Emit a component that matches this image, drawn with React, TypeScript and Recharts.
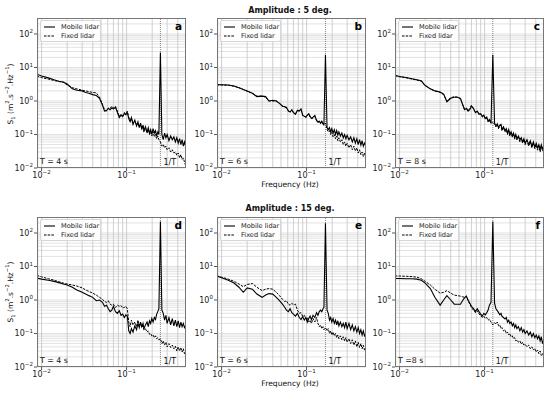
import { LineChart, Line, XAxis, YAxis, ReferenceLine } from 'recharts';

const FONT = '"DejaVu Sans", Verdana, sans-serif';

// frequency grid (Hz) shared by all panels
const FREQ = [
  0.0088, 0.01, 0.012, 0.014, 0.016, 0.018, 0.02, 0.023, 0.026, 0.03,
  0.033, 0.036, 0.04, 0.044, 0.048, 0.052, 0.055, 0.058, 0.061, 0.064,
  0.067, 0.07, 0.074, 0.078, 0.082, 0.086, 0.09, 0.094, 0.098, 0.102,
  0.106, 0.11, 0.114, 0.119, 0.125, 0.131, 0.136, 0.141, 0.146, 0.151,
  0.156, 0.16, 0.1667, 0.174, 0.18, 0.186, 0.192, 0.198, 0.205, 0.212,
  0.219, 0.226, 0.233, 0.24, 0.25, 0.26, 0.27, 0.28, 0.29, 0.3,
  0.315, 0.33, 0.345, 0.36, 0.375, 0.39, 0.405, 0.42, 0.435, 0.45,
  0.465, 0.48, 0.5,
];

// Amplitude 5 deg
const MOBILE_A = [
  6.3, 5.6, 4.9, 4.3, 3.9, 3.7, 3.2, 2.3, 2.1, 2.0,
  1.8, 1.7, 1.55, 1.45, 1.2, 0.75, 0.5, 0.52, 0.6, 0.55,
  0.62, 0.58, 0.65, 0.45, 0.32, 0.38, 0.34, 0.42, 0.39, 0.45,
  0.3, 0.24, 0.32, 0.2, 0.27, 0.18, 0.24, 0.16, 0.22, 0.15,
  0.19, 0.13, 0.17, 0.12, 0.16, 0.11, 0.14, 0.1, 0.15, 0.11,
  0.13, 0.09, 0.12, 0.1, 28, 0.1, 0.07, 0.11, 0.08, 0.1,
  0.065, 0.09, 0.07, 0.085, 0.06, 0.08, 0.055, 0.075, 0.05, 0.07,
  0.045, 0.06, 0.04,
];
const FIXED_A = [
  5.5, 5.0, 4.5, 4.1, 3.8, 3.6, 3.0, 2.5, 2.3, 2.1,
  2.0, 1.9, 1.8, 1.75, 1.3, 0.8, 0.55, 0.5, 0.62, 0.6,
  0.7, 0.62, 0.68, 0.5, 0.35, 0.4, 0.36, 0.45, 0.42, 0.5,
  0.33, 0.26, 0.3, 0.22, 0.25, 0.19, 0.22, 0.17, 0.2, 0.14,
  0.18, 0.12, 0.15, 0.11, 0.14, 0.1, 0.12, 0.09, 0.12, 0.085,
  0.1, 0.075, 0.09, 0.07, 0.06, 0.045, 0.05, 0.04, 0.045, 0.035,
  0.04, 0.03, 0.035, 0.028, 0.03, 0.024, 0.028, 0.02, 0.025, 0.018,
  0.02, 0.015, 0.011,
];
const MOBILE_B = [
  3.1, 3.05, 3.0, 2.8, 2.5, 2.2, 2.0, 1.7, 1.35, 1.4,
  1.35, 1.0, 1.05, 1.0, 0.85, 0.7, 0.68, 0.64, 0.5, 0.47,
  0.55, 0.45, 0.4, 0.53, 0.5, 0.58, 0.37, 0.35, 0.33, 0.38,
  0.42, 0.35, 0.3, 0.33, 0.37, 0.26, 0.24, 0.25, 0.22, 0.25,
  0.21, 0.2, 24, 0.16, 0.14, 0.16, 0.12, 0.15, 0.11, 0.14,
  0.1, 0.13, 0.095, 0.12, 0.09, 0.11, 0.08, 0.1, 0.075, 0.095,
  0.07, 0.085, 0.06, 0.08, 0.055, 0.075, 0.05, 0.07, 0.048, 0.065,
  0.045, 0.055, 0.045,
];
const FIXED_B = [
  3.0, 3.0, 2.95, 2.75, 2.5, 2.2, 1.95, 1.7, 1.4, 1.4,
  1.3, 1.0, 1.0, 1.0, 0.85, 0.72, 0.66, 0.62, 0.52, 0.47,
  0.53, 0.46, 0.42, 0.5, 0.52, 0.55, 0.38, 0.36, 0.32, 0.37,
  0.4, 0.33, 0.3, 0.31, 0.35, 0.27, 0.23, 0.24, 0.21, 0.23,
  0.2, 0.19, 0.22, 0.14, 0.12, 0.13, 0.1, 0.12, 0.085, 0.1,
  0.075, 0.09, 0.065, 0.08, 0.06, 0.07, 0.05, 0.06, 0.045, 0.055,
  0.04, 0.05, 0.035, 0.045, 0.032, 0.04, 0.028, 0.035, 0.025, 0.03,
  0.022, 0.028, 0.02,
];
const MOBILE_C = [
  5.9, 5.4, 5.0, 4.6, 4.3, 4.0, 2.9, 2.3, 2.0, 1.85,
  1.6, 0.95, 1.2, 1.3, 1.3, 1.2, 0.8, 0.55, 0.6, 0.5,
  0.55, 0.7, 0.6, 0.45, 0.5, 0.4, 0.42, 0.35, 0.38, 0.3,
  0.33, 0.25, 0.28, 0.22, 24, 0.22, 0.18, 0.21, 0.16, 0.19,
  0.2, 0.14, 0.17, 0.13, 0.15, 0.11, 0.14, 0.1, 0.12, 0.09,
  0.11, 0.08, 0.1, 0.075, 0.09, 0.07, 0.08, 0.06, 0.075, 0.055,
  0.07, 0.05, 0.065, 0.045, 0.06, 0.042, 0.055, 0.04, 0.05, 0.035,
  0.05, 0.038, 0.045,
];
const FIXED_C = [
  5.7, 5.3, 4.9, 4.5, 4.2, 3.9, 2.9, 2.3, 2.0, 1.8,
  1.55, 1.0, 1.25, 1.35, 1.3, 1.15, 0.8, 0.58, 0.62, 0.52,
  0.6, 0.75, 0.58, 0.47, 0.48, 0.42, 0.4, 0.33, 0.36, 0.29,
  0.31, 0.24, 0.27, 0.21, 0.24, 0.2, 0.17, 0.2, 0.15, 0.18,
  0.19, 0.13, 0.16, 0.12, 0.14, 0.1, 0.13, 0.09, 0.11, 0.085,
  0.1, 0.075, 0.09, 0.07, 0.085, 0.06, 0.075, 0.055, 0.07, 0.05,
  0.065, 0.045, 0.06, 0.04, 0.055, 0.038, 0.05, 0.034, 0.045, 0.03,
  0.045, 0.032, 0.04,
];

// Amplitude 15 deg
const MOBILE_D = [
  4.5, 4.2, 3.9, 3.6, 3.3, 3.0, 2.8, 2.4, 2.0, 1.7,
  1.5, 1.35, 1.2, 0.95, 1.0, 0.85, 0.65, 0.7, 0.55, 0.45,
  0.5, 0.65, 0.45, 0.4, 0.48, 0.35, 0.38, 0.3, 0.36, 0.33,
  0.12, 0.1, 0.14, 0.11, 0.17, 0.13, 0.2, 0.15, 0.22, 0.16,
  0.2, 0.14, 0.18, 0.22, 0.16, 0.24, 0.2, 0.28, 0.22, 0.3,
  0.26, 0.38, 0.45, 0.55, 220, 0.5, 0.4, 0.25, 0.35, 0.2,
  0.3, 0.18, 0.28, 0.17, 0.25, 0.16, 0.24, 0.15, 0.22, 0.16,
  0.2, 0.15, 0.18,
];
const FIXED_D = [
  5.4, 4.9, 4.3, 3.9, 3.5, 3.2, 3.0, 2.8, 2.6, 2.3,
  2.0, 1.8, 1.6, 1.4, 1.2, 1.05, 0.9, 0.85, 0.95, 0.75,
  0.7, 0.75, 0.6, 0.7, 0.65, 0.68, 0.58, 0.6, 0.65, 0.55,
  0.22, 0.16, 0.25, 0.18, 0.22, 0.16, 0.25, 0.18, 0.2, 0.15,
  0.17, 0.13, 0.14, 0.11, 0.12, 0.095, 0.1, 0.085, 0.09, 0.075,
  0.085, 0.07, 0.075, 0.065, 0.07, 0.05, 0.06, 0.045, 0.055, 0.04,
  0.05, 0.038, 0.045, 0.035, 0.042, 0.03, 0.04, 0.03, 0.038, 0.028,
  0.035, 0.025, 0.03,
];
const MOBILE_E = [
  5.2, 4.6, 3.9, 3.2, 2.4, 1.7, 2.3, 2.1, 1.5, 1.2,
  1.4, 1.55, 1.5, 1.2, 0.95, 0.75, 0.62, 0.5, 0.45, 0.55,
  0.42, 0.38, 0.33, 0.4, 0.3, 0.26, 0.32, 0.25, 0.3, 0.22,
  0.28, 0.33, 0.26, 0.35, 0.3, 0.42, 0.35, 0.45, 0.5, 0.45,
  0.55, 0.6, 195, 0.5, 0.4, 0.25, 0.3, 0.22, 0.28, 0.2,
  0.25, 0.18, 0.24, 0.17, 0.22, 0.16, 0.2, 0.15, 0.22, 0.14,
  0.2, 0.13, 0.18, 0.12, 0.16, 0.11, 0.15, 0.1, 0.13, 0.09,
  0.12, 0.085, 0.1,
];
const FIXED_E = [
  5.3, 4.8, 4.2, 3.6, 3.0, 2.5, 2.9, 3.1, 2.4, 1.9,
  2.1, 2.2, 2.1, 1.7, 1.35, 1.05, 0.9, 0.95, 0.75, 0.7,
  0.8, 0.72, 0.75, 0.5, 0.4, 0.42, 0.32, 0.35, 0.27, 0.3,
  0.22, 0.25, 0.2, 0.28, 0.22, 0.3, 0.2, 0.16, 0.18, 0.14,
  0.16, 0.13, 0.15, 0.12, 0.14, 0.1, 0.12, 0.09, 0.11, 0.085,
  0.1, 0.075, 0.09, 0.07, 0.085, 0.065, 0.08, 0.06, 0.075, 0.055,
  0.07, 0.05, 0.065, 0.045, 0.06, 0.04, 0.055, 0.038, 0.05, 0.035,
  0.045, 0.032, 0.04,
];
const MOBILE_F = [
  4.4, 4.4, 4.3, 4.3, 4.2, 3.9, 3.2, 2.2, 1.2, 0.7,
  1.0, 1.35, 1.0, 0.75, 0.75, 0.75, 0.95, 1.15, 1.3, 1.0,
  0.8, 0.65, 0.55, 0.45, 0.55, 0.45, 0.38, 0.33, 0.4, 0.36,
  0.42, 0.5, 0.7, 0.85, 220, 0.8, 0.55, 0.48, 0.42, 0.36,
  0.4, 0.33, 0.3, 0.27, 0.3, 0.22, 0.25, 0.2, 0.22, 0.17,
  0.2, 0.15, 0.18, 0.14, 0.16, 0.12, 0.15, 0.11, 0.13, 0.1,
  0.12, 0.09, 0.11, 0.08, 0.1, 0.075, 0.09, 0.07, 0.085, 0.06,
  0.08, 0.05, 0.07,
];
const FIXED_F = [
  5.2, 5.2, 5.1, 5.0, 4.8, 4.3, 3.6, 2.8, 2.1, 1.6,
  1.7, 1.9, 1.6, 1.4, 1.35, 1.3, 1.25, 1.2, 1.3, 0.95,
  0.75, 0.6, 0.5, 0.42, 0.48, 0.38, 0.35, 0.3, 0.33, 0.28,
  0.3, 0.25, 0.27, 0.22, 0.18, 0.21, 0.19, 0.22, 0.17, 0.18,
  0.14, 0.15, 0.12, 0.13, 0.1, 0.11, 0.09, 0.1, 0.08, 0.085,
  0.07, 0.075, 0.06, 0.065, 0.055, 0.06, 0.048, 0.055, 0.045, 0.048,
  0.04, 0.045, 0.035, 0.04, 0.032, 0.036, 0.028, 0.032, 0.025, 0.03,
  0.022, 0.025, 0.02,
];

const PERIODS = [4, 6, 8, 4, 6, 8];
const PERIOD_LABELS = ['T = 4 s', 'T = 6 s', 'T = 8 s', 'T = 4 s', 'T = 6 s', 'T =8 s'];
const LETTERS = ['a', 'b', 'c', 'd', 'e', 'f'];
const TITLES = ['Amplitude : 5 deg.', 'Amplitude : 15 deg.'];
const X_TICKS = [0.01, 0.1];
const Y_TICKS = [0.01, 0.1, 1, 10, 100];

const X_DOMAIN = [0.00883, 0.5];
const Y_DOMAIN = [0.01, 300];

// log grid positions (major + minor)
const DECADES = [-3, -2, -1, 0, 1, 2];
const STEPS = [1, 2, 3, 4, 5, 6, 7, 8, 9];
const GRID = DECADES.flatMap((d) => STEPS.map((k) => k * Math.pow(10, d)));
const X_GRID = GRID.filter((v) => v > X_DOMAIN[0] && v < X_DOMAIN[1]);
const Y_GRID = GRID.filter((v) => v > Y_DOMAIN[0] * 0.999 && v < Y_DOMAIN[1]);

const PW = 149;
const PH = 150;
const YW = 36;
const XH = 20;

const COLS = [37, 217, 395];
const ROWS = [18, 217];

function expText(v: number) {
  const e = Math.round(Math.log10(v));
  return e < 0 ? '\u2212' + Math.abs(e) : String(e);
}

function XTick(props: any) {
  const { x, payload } = props;
  return (
    <text x={x} y={PH + 10} textAnchor="middle" fontSize={8} fontFamily={FONT} fill="#222">
      10<tspan dy={-3.8} fontSize={5.6}>{expText(payload.value)}</tspan>
    </text>
  );
}

function YTick(props: any) {
  const { y, payload } = props;
  return (
    <text x={YW - 4} y={y + 3} textAnchor="end" fontSize={8} fontFamily={FONT} fill="#222">
      10<tspan dy={-3.8} fontSize={5.6}>{expText(payload.value)}</tspan>
    </text>
  );
}

function Panel({ idx, mobile, fixed }: { idx: number; mobile: number[]; fixed: number[] }) {
  const left = COLS[idx % 3];
  const top = ROWS[Math.floor(idx / 3)];
  const period = PERIODS[idx];
  const data = FREQ.map((f, i) => ({ f, mobile: mobile[i], fixed: fixed[i] }));
  return (
    <div style={{ position: 'absolute', left: left - YW, top, width: PW + YW, height: PH + XH }}>
      <LineChart width={PW + YW} height={PH + XH} data={data} margin={{ top: 0, right: 0, bottom: 0, left: 0 }}>
        <XAxis
          dataKey="f"
          type="number"
          scale="log"
          domain={X_DOMAIN}
          allowDataOverflow
          ticks={X_TICKS}
          interval={0}
          tick={(p: any) => <XTick {...p} />}
          tickSize={3}
          tickLine={{ stroke: '#555' }}
          axisLine={false}
          height={XH}
        />
        <YAxis
          type="number"
          scale="log"
          domain={Y_DOMAIN}
          allowDataOverflow
          ticks={Y_TICKS}
          interval={0}
          tick={(p: any) => <YTick {...p} />}
          tickSize={3}
          tickLine={{ stroke: '#555' }}
          axisLine={false}
          width={YW}
        />
        {Y_GRID.map((v) => (
          <ReferenceLine key={'y' + v} y={v} stroke="#dadada" strokeWidth={0.8} />
        ))}
        {X_GRID.map((v) => (
          <ReferenceLine key={'x' + v} x={v} stroke="#c4c4c4" strokeWidth={0.8} />
        ))}
        <ReferenceLine
          x={1 / period}
          stroke="#666"
          strokeWidth={0.8}
          strokeDasharray="1 1"
          label={{ value: '1/T', position: 'insideBottomLeft', offset: 3, fontSize: 8, fill: '#111', fontFamily: FONT }}
        />
        <Line dataKey="fixed" stroke="#000" strokeWidth={1} strokeDasharray="2.5 1.2" dot={false} isAnimationActive={false} />
        <Line dataKey="mobile" stroke="#000" strokeWidth={1.1} dot={false} isAnimationActive={false} />
      </LineChart>
      {/* frame */}
      <div style={{ position: 'absolute', left: YW, top: 0, width: PW, height: PH, border: '0.8px solid #777', boxSizing: 'border-box', pointerEvents: 'none' }} />
      {/* legend */}
      <div
        style={{
          position: 'absolute', left: YW + 3, top: 2, width: 61, height: 22,
          background: 'rgba(255,255,255,0.85)', border: '0.8px solid #d6d6d6', borderRadius: 2,
          boxSizing: 'border-box', fontFamily: FONT, fontSize: 6.6, color: '#222',
        }}
      >
        <div style={{ position: 'absolute', left: 3, top: 2, display: 'flex', alignItems: 'center', height: 8 }}>
          <svg width={11} height={4}><line x1={0} y1={2} x2={11} y2={2} stroke="#000" strokeWidth={1.1} /></svg>
          <span style={{ marginLeft: 6 }}>Mobile lidar</span>
        </div>
        <div style={{ position: 'absolute', left: 3, top: 11, display: 'flex', alignItems: 'center', height: 8 }}>
          <svg width={11} height={4}><line x1={0} y1={2} x2={11} y2={2} stroke="#000" strokeWidth={1} strokeDasharray="2.5 1.2" /></svg>
          <span style={{ marginLeft: 6 }}>Fixed lidar</span>
        </div>
      </div>
      {/* panel letter */}
      <div style={{ position: 'absolute', left: YW + PW - 16, top: 3, width: 12, textAlign: 'right', fontFamily: FONT, fontWeight: 'bold', fontSize: 10.5, lineHeight: '11px', color: '#000' }}>
        {LETTERS[idx]}
      </div>
      {/* period label */}
      <div style={{ position: 'absolute', left: YW + 3, top: PH - 11, fontFamily: FONT, fontSize: 7.8, lineHeight: '9px', color: '#111', whiteSpace: 'nowrap' }}>
        {PERIOD_LABELS[idx]}
      </div>
    </div>
  );
}

function YLabel({ cy }: { cy: number }) {
  return (
    <div
      style={{
        position: 'absolute', left: 10, top: cy, transform: 'translate(-50%, -50%) rotate(-90deg)',
        fontFamily: FONT, fontSize: 7.5, whiteSpace: 'nowrap', color: '#111',
      }}
    >
      S<sub style={{ fontSize: 5.3 }}>1</sub> (m<sup style={{ fontSize: 5.3 }}>2</sup>.s<sup style={{ fontSize: 5.3 }}>{'\u2212'}2</sup>.Hz<sup style={{ fontSize: 5.3 }}>{'\u2212'}1</sup>)
    </div>
  );
}

function CenterText({ x, y, bold, children }: { x: number; y: number; bold?: boolean; children: any }) {
  return (
    <div
      style={{
        position: 'absolute', left: x, top: y, transform: 'translate(-50%, -50%)',
        fontFamily: FONT, fontSize: bold ? 8 : 7.6, fontWeight: bold ? 'bold' : 'normal',
        whiteSpace: 'nowrap', color: '#111',
      }}
    >
      {children}
    </div>
  );
}

export default function App() {
  const series = [
    [MOBILE_A, FIXED_A],
    [MOBILE_B, FIXED_B],
    [MOBILE_C, FIXED_C],
    [MOBILE_D, FIXED_D],
    [MOBILE_E, FIXED_E],
    [MOBILE_F, FIXED_F],
  ];
  return (
    <div style={{ position: 'fixed', left: 0, top: 0, width: 550, height: 394, background: '#fff', overflow: 'hidden' }}>
      <CenterText x={290} y={10} bold>{TITLES[0]}</CenterText>
      <CenterText x={290} y={208} bold>{TITLES[1]}</CenterText>
      <CenterText x={290} y={184}>Frequency (Hz)</CenterText>
      <CenterText x={290} y={383}>Frequency (Hz)</CenterText>
      <YLabel cy={94} />
      <YLabel cy={292} />
      {series.map(([m, f], i) => (
        <Panel key={i} idx={i} mobile={m} fixed={f} />
      ))}
    </div>
  );
}
